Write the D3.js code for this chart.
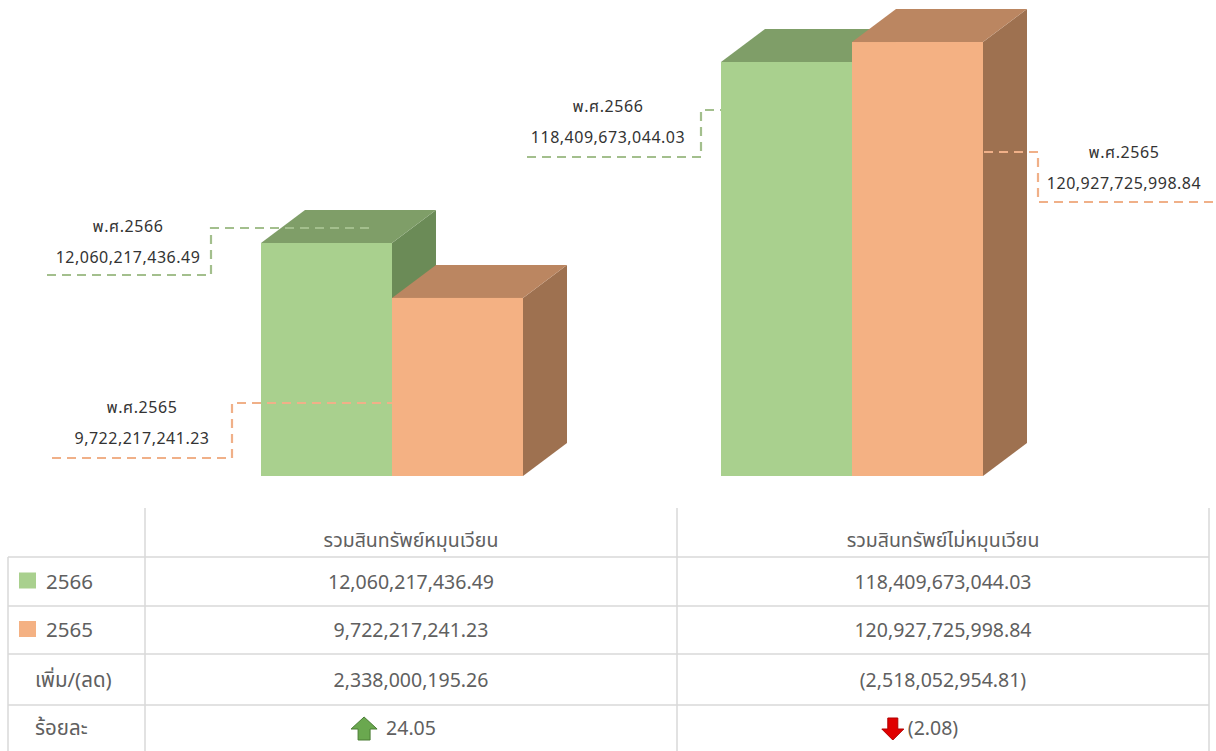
<!DOCTYPE html>
<html>
<head>
<meta charset="utf-8">
<script src="https://cdn.jsdelivr.net/npm/d3@7"></script>
<style>
  html, body { margin: 0; padding: 0; background: #fff; }
  svg { display: block; font-family: "Noto Sans Thai", Tahoma, "Noto Sans", "DejaVu Sans", sans-serif; }
</style>
</head>
<body>
<svg id="chart" width="1216" height="751"></svg>
<script>
// data
var categories = ["รวมสินทรัพย์หมุนเวียน", "รวมสินทรัพย์ไม่หมุนเวียน"];
var years = ["2566", "2565"];
var values2566 = [12060217436.49, 118409673044.03];
var values2565 = [9722217241.23, 120927725998.84];
var changeValues = [2338000195.26, -2518052954.81];
var percentValues = [24.05, -2.08];
var rowLabels = ["2566", "2565", "เพิ่ม/(ลด)", "ร้อยละ"];

var seriesValues = { "2566": values2566, "2565": values2565 };

var colors = {
  "2566": { front: "#a9d08e", top: "#7f9e68", side: "#6b8b57", line: "#a3bf8d" },
  "2565": { front: "#f4b183", top: "#bb8661", side: "#9e7150", line: "#f0b088" }
};

var svg = d3.select("#chart");
var baseY = 476;
var depthX = 44, depthY = -33;

// group centres and bars inside each group
var x = d3.scalePoint().domain(categories).range([392, 852]);
var xInner = d3.scaleBand().domain(years).range([-131, 131]);

// each group in the picture has its own vertical scale
var yScales = [
  d3.scaleLinear().domain([2.145e9, 12.0602e9]).range([baseY, 243]),
  d3.scaleLinear().domain([66.25e9, 118.4097e9]).range([baseY, 62])
];

var fmt = d3.format(",.2f");
function money(v) { return v < 0 ? "(" + fmt(-v) + ")" : fmt(v); }

// bars
var barData = [];
categories.forEach(function(c, i) {
  years.forEach(function(yr) {
    var v = seriesValues[yr][i];
    barData.push({
      cat: c, year: yr, value: v,
      x0: x(c) + xInner(yr), w: xInner.bandwidth(),
      y0: yScales[i](v)
    });
  });
});

var bars = svg.append("g").selectAll("g.bar")
  .data(barData)
  .enter().append("g").attr("class", "bar");

bars.append("polygon")
  .attr("fill", function(d) { return colors[d.year].side; })
  .attr("points", function(d) {
    var r = d.x0 + d.w;
    return [[r, d.y0], [r + depthX, d.y0 + depthY], [r + depthX, baseY + depthY], [r, baseY]].join(" ");
  });
bars.append("polygon")
  .attr("fill", function(d) { return colors[d.year].top; })
  .attr("points", function(d) {
    return [[d.x0, d.y0], [d.x0 + d.w, d.y0], [d.x0 + d.w + depthX, d.y0 + depthY], [d.x0 + depthX, d.y0 + depthY]].join(" ");
  });
bars.append("rect")
  .attr("fill", function(d) { return colors[d.year].front; })
  .attr("x", function(d) { return d.x0; })
  .attr("y", function(d) { return d.y0; })
  .attr("width", function(d) { return d.w; })
  .attr("height", function(d) { return baseY - d.y0; });

// callouts (layout only)
var callouts = [
  { g: 0, yr: "2566", tx: 128, ty: 232, path: "M47,275H211V228H370" },
  { g: 0, yr: "2565", tx: 142, ty: 413, path: "M52,458H232V403H392" },
  { g: 1, yr: "2566", tx: 608, ty: 112, path: "M527,157H701V110H721" },
  { g: 1, yr: "2565", tx: 1124, ty: 158, path: "M984,152H1038V202H1216" }
];

var co = svg.append("g").selectAll("g")
  .data(callouts).enter().append("g");

co.append("path")
  .attr("d", function(d) { return d.path; })
  .attr("fill", "none")
  .attr("stroke", function(d) { return colors[d.yr].line; })
  .attr("stroke-width", 2.2)
  .attr("stroke-dasharray", "9,6");

co.append("text")
  .attr("x", function(d) { return d.tx; })
  .attr("y", function(d) { return d.ty; })
  .attr("text-anchor", "middle")
  .attr("font-size", 16)
  .attr("letter-spacing", 0.6)
  .attr("fill", "#333")
  .text(function(d) { return "พ.ศ." + d.yr; });

co.append("text")
  .attr("x", function(d) { return d.tx; })
  .attr("y", function(d) { return d.ty + 31; })
  .attr("text-anchor", "middle")
  .attr("font-size", 16)
  .attr("letter-spacing", 0.5)
  .attr("fill", "#333")
  .text(function(d) { return fmt(seriesValues[d.yr][d.g]); });

// data table
var colX = [8, 145, 677, 1209];
var rowY = [508, 557, 606, 654, 705, 751];
var colCenter = d3.scalePoint().domain(categories).range([(colX[1] + colX[2]) / 2, (colX[2] + colX[3]) / 2]);
var lineColor = "#d9d9d9";
var tbl = svg.append("g");

// horizontal lines
tbl.selectAll("line.h")
  .data(rowY.slice(1, 5))
  .enter().append("line")
  .attr("x1", colX[0]).attr("x2", colX[3])
  .attr("y1", function(d) { return d; }).attr("y2", function(d) { return d; })
  .attr("stroke", lineColor).attr("stroke-width", 1.5);

// vertical lines
tbl.selectAll("line.v")
  .data(colX)
  .enter().append("line")
  .attr("x1", function(d) { return d; }).attr("x2", function(d) { return d; })
  .attr("y1", function(d, i) { return i === 0 ? rowY[1] : rowY[0]; })
  .attr("y2", rowY[5])
  .attr("stroke", lineColor).attr("stroke-width", 1.5);

var tfont = 19.5, tcolor = "#606060";

// header
tbl.selectAll("text.head")
  .data(categories)
  .enter().append("text")
  .attr("x", function(d) { return colCenter(d); })
  .attr("y", 547)
  .attr("text-anchor", "middle")
  .attr("font-size", tfont)
  .attr("fill", tcolor)
  .text(function(d) { return d; });

// row labels + legend keys
rowLabels.forEach(function(lab, r) {
  var cy = (rowY[r + 1] + rowY[r + 2]) / 2;
  var isKey = r < 2;
  if (isKey) {
    tbl.append("rect")
      .attr("x", 19).attr("y", cy - 9)
      .attr("width", 17).attr("height", 16)
      .attr("fill", colors[years[r]].front);
  }
  tbl.append("text")
    .attr("x", isKey ? 46 : 35)
    .attr("y", cy + 7)
    .attr("font-size", tfont + 1)
    .attr("fill", tcolor)
    .text(lab);
});

// cell values
var rows = [values2566, values2565, changeValues];
rows.forEach(function(vals, r) {
  var cy = (rowY[r + 1] + rowY[r + 2]) / 2;
  tbl.selectAll(null)
    .data(categories)
    .enter().append("text")
    .attr("x", function(d) { return colCenter(d); })
    .attr("y", cy + 7)
    .attr("text-anchor", "middle")
    .attr("font-size", tfont)
    .attr("fill", tcolor)
    .text(function(d, i) { return money(vals[i]); });
});

// percent row with arrows
var pcy = (rowY[4] + rowY[5]) / 2;
categories.forEach(function(c, i) {
  var p = percentValues[i];
  var cx = colCenter(c) + (p < 0 ? -10 : 0);
  var t = tbl.append("text")
    .attr("x", cx)
    .attr("y", pcy + 7)
    .attr("text-anchor", "middle")
    .attr("font-size", tfont)
    .attr("fill", tcolor)
    .text(p < 0 ? "(" + d3.format(".2f")(-p) + ")" : d3.format(".2f")(p));
  var tw = t.node().getComputedTextLength();
  var ax = cx - tw / 2 - (p < 0 ? 15 : 22);
  var up = "M0,-12L13,0H6V11H-6V0H-13Z";
  var down = "M-5,-11H5V0H11L0,11L-11,0H-5Z";
  tbl.append("path")
    .attr("transform", "translate(" + ax + "," + (pcy + 1) + ")")
    .attr("d", p < 0 ? down : up)
    .attr("fill", p < 0 ? "#e00000" : "#6aa84f")
    .attr("stroke", p < 0 ? "#b00000" : "#4a7d35")
    .attr("stroke-width", 1);
});
</script>
</body>
</html>
